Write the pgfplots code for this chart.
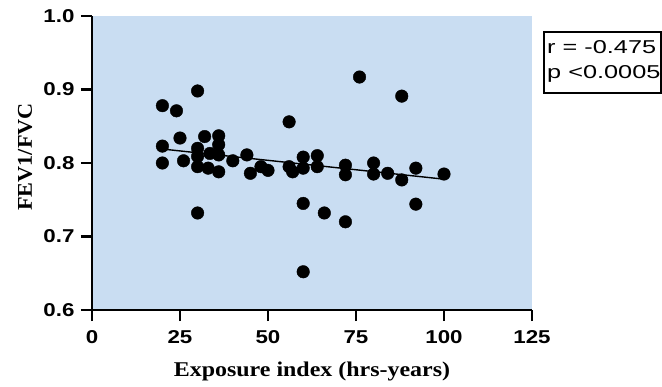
\documentclass[border=0pt]{standalone}
\usepackage{fontspec}
\setmainfont{Liberation Serif}
\newfontfamily\tickfont[FakeStretch=1.2]{Liberation Sans}
\newfontfamily\boxfont[FakeStretch=1.36]{Liberation Sans}
\newfontfamily\xlabfont[FakeStretch=1.14]{Liberation Serif}
\newfontfamily\ylabfont[FakeStretch=1.06]{Liberation Serif}
\usepackage{pgfplots}
\pgfplotsset{compat=1.18}
\definecolor{bgblue}{RGB}{201,221,242}
\begin{document}
\begin{tikzpicture}[x=1pt,y=1pt]
\useasboundingbox (-92,-76) rectangle (570,310);
\begin{axis}[
  at={(0pt,0pt)}, anchor=south west,
  scale only axis, width=440pt, height=294pt,
  xmin=0, xmax=125, ymin=0.6, ymax=1.0,
  axis x line*=bottom, axis y line*=left,
  axis line style={line width=2.4pt, -},
  axis background/.style={fill=bgblue},
  xtick={0,25,50,75,100,125}, xticklabels={0,25,50,75,100,125},
  ytick={0.6,0.7,0.8,0.9,1.0}, yticklabels={0.6,0.7,0.8,0.9,1.0},
  tick align=outside, major tick length=11pt,
  tick style={line width=2.4pt, black},
  ticklabel style={font=\fontsize{18.6}{18.6}\selectfont\bfseries\tickfont},
  xticklabel style={yshift=-6pt},
  yticklabel style={xshift=-3pt},
  xlabel={Exposure index (hrs-years)},
  ylabel={FEV1/FVC},
  xlabel style={font=\fontsize{21}{21}\selectfont\bfseries\xlabfont,
    at={(axis description cs:0.5,0)}, anchor=base, yshift=-66.5pt},
  ylabel style={font=\fontsize{21}{21}\selectfont\bfseries\ylabfont,
    at={([xshift=-60pt,yshift=6pt]axis description cs:0,0.5)}, anchor=base},
  clip=false,
]
\addplot[only marks, mark=*, mark size=6.3pt, black] coordinates {
(20,0.878) (20,0.823) (20,0.800) (24,0.871) (25,0.834) (26,0.803)
(30,0.898) (30,0.820) (30,0.809) (30,0.795) (30,0.732) (32,0.836)
(33,0.793) (33.5,0.813) (36,0.837) (36,0.825) (36,0.811) (36,0.788)
(40,0.803) (44,0.811) (45,0.786) (48,0.795) (50,0.790) (56,0.856)
(56,0.795) (57,0.788) (60,0.808) (60,0.793) (60,0.745) (60,0.652)
(64,0.810) (64,0.795) (66,0.732) (72,0.797) (72,0.784) (72,0.720)
(76,0.917) (80,0.800) (80,0.785) (84,0.786) (88,0.891) (88,0.777)
(92,0.793) (92,0.744) (100,0.785)
};
\addplot[black, line width=1.4pt] coordinates {(20,0.819) (100,0.778)};
\end{axis}
\draw[line width=2pt] (451.7,217.3) rectangle (569,278.3);
\node[anchor=base west, inner sep=0pt, font=\fontsize{18.6}{18.6}\selectfont\boxfont]
  at (455,256.7) {r = -0.475};
\node[anchor=base west, inner sep=0pt, font=\fontsize{18.6}{18.6}\selectfont\boxfont]
  at (455,231.7) {p <0.0005};
\end{tikzpicture}
\end{document}
